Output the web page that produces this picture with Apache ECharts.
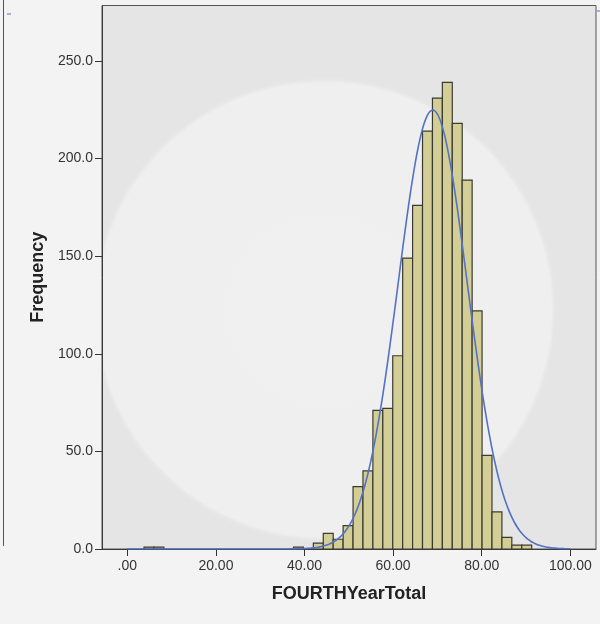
<!DOCTYPE html>
<html>
<head>
<meta charset="utf-8">
<title>FOURTHYearTotal histogram</title>
<script src="https://cdn.jsdelivr.net/npm/echarts@6/dist/echarts.min.js"></script>
<style>
  html, body { margin: 0; padding: 0; background: #f3f3f3; }
  #chart { width: 600px; height: 624px; }
</style>
</head>
<body>
<div id="chart"></div>
<script>
// Histogram bins: lower edge of each bin and its frequency
const binWidth = 2.24;
const binLower = [3.78, 6.02, 37.52, 42.00, 44.24, 46.48, 48.72, 50.96, 53.20, 55.44,
                  57.68, 59.92, 62.16, 64.40, 66.64, 68.88, 71.12, 73.36, 75.60, 77.84,
                  80.08, 82.32, 84.56, 86.80, 89.04];
const binCount = [1, 1, 1, 3, 8, 5, 12, 32, 40, 71,
                  72, 99, 149, 176, 214, 231, 239, 218, 189, 122,
                  48, 19, 6, 2, 2];

// Axis ticks and their labels
const xTicks = [0, 20, 40, 60, 80, 100];
const xTickLabels = ['.00', '20.00', '40.00', '60.00', '80.00', '100.00'];
const yTicks = [0, 50, 100, 150, 200, 250];
const yTickLabels = ['0.0', '50.0', '100.0', '150.0', '200.0', '250.0'];

const xName = 'FOURTHYearTotal';
const yName = 'Frequency';

// Normal curve fitted to the binned data (mean / std. dev. from bin midpoints)
const total = binCount.reduce((a, b) => a + b, 0);
const mean = binLower.reduce((s, lo, i) => s + (lo + binWidth / 2) * binCount[i], 0) / total;
const variance = binLower.reduce((s, lo, i) => {
  const d = lo + binWidth / 2 - mean;
  return s + d * d * binCount[i];
}, 0) / (total - 1);
const sd = Math.sqrt(variance);
const normalCurve = [];
for (let x = 0; x <= 100.0001; x += 0.5) {
  const z = (x - mean) / sd;
  normalCurve.push([x, total * binWidth * Math.exp(-0.5 * z * z) / (sd * Math.sqrt(2 * Math.PI))]);
}

const histData = binLower.map((lo, i) => [lo, lo + binWidth, binCount[i]]);

const font = '"Liberation Sans", Arial, sans-serif';
const chart = echarts.init(document.getElementById('chart'), null, { renderer: 'canvas' });

chart.setOption({
  backgroundColor: 'transparent',
  animation: false,
  graphic: [
    // frame edge of the neighbouring panel on the left
    { type: 'line', shape: { x1: 3.5, y1: 0, x2: 3.5, y2: 546 },
      style: { stroke: '#555', lineWidth: 1 }, z: 10 },
    { type: 'line', shape: { x1: 7, y1: 14, x2: 11, y2: 14 },
      style: { stroke: '#5573c8', lineWidth: 1 }, z: 10 },
    { type: 'line', shape: { x1: 597, y1: 11, x2: 600, y2: 11 },
      style: { stroke: '#5573c8', lineWidth: 1 }, z: 10 }
  ],
  grid: {
    left: 102, right: 4, top: 5.5, bottom: 75,
    show: true,
    borderColor: '#555',
    borderWidth: 1,
    backgroundColor: {
      type: 'radial', x: 0.45, y: 0.56, r: 0.47,
      colorStops: [
        { offset: 0, color: '#f0f0f0' },
        { offset: 0.975, color: '#efefef' },
        { offset: 0.99, color: '#e7e7e7' },
        { offset: 1, color: '#e5e5e5' }
      ]
    }
  },
  xAxis: {
    type: 'value',
    min: -5.71, max: 105.8,
    name: xName,
    nameLocation: 'middle',
    nameGap: 36,
    nameTextStyle: { fontFamily: font, fontSize: 18, fontWeight: 'bold', color: '#222' },
    splitLine: { show: false },
    axisLine: { onZero: false, lineStyle: { color: '#3a3a3a', width: 1 } },
    axisTick: { show: true, customValues: xTicks, length: 7, lineStyle: { color: '#333' } },
    axisLabel: {
      customValues: xTicks,
      formatter: v => xTickLabels[xTicks.indexOf(v)],
      margin: 10, fontFamily: font, fontSize: 14, color: '#333'
    }
  },
  yAxis: {
    type: 'value',
    min: 0, max: 278.4,
    name: yName,
    nameLocation: 'middle',
    nameGap: 54,
    nameRotate: 90,
    nameTextStyle: { fontFamily: font, fontSize: 18, fontWeight: 'bold', color: '#222' },
    splitLine: { show: false },
    axisLine: { show: true, onZero: false, lineStyle: { color: '#3a3a3a', width: 1 } },
    axisTick: { show: true, customValues: yTicks, length: 7, lineStyle: { color: '#333' } },
    axisLabel: {
      customValues: yTicks,
      formatter: v => yTickLabels[yTicks.indexOf(v)],
      margin: 9, fontFamily: font, fontSize: 14, color: '#333'
    }
  },
  series: [
    {
      type: 'custom',
      name: 'bins',
      clip: true,
      data: histData,
      encode: { x: [0, 1], y: 2 },
      renderItem: function (params, api) {
        const topLeft = api.coord([api.value(0), api.value(2)]);
        const bottomRight = api.coord([api.value(1), 0]);
        return {
          type: 'rect',
          shape: {
            x: topLeft[0], y: topLeft[1],
            width: bottomRight[0] - topLeft[0],
            height: bottomRight[1] - topLeft[1]
          },
          style: { fill: '#d3cd96', stroke: '#3b3a30', lineWidth: 1.2 }
        };
      },
      z: 2
    },
    {
      type: 'line',
      name: 'Normal',
      data: normalCurve,
      showSymbol: false,
      smooth: true,
      lineStyle: { color: '#5472c4', width: 1.6 },
      z: 3
    }
  ]
});
</script>
</body>
</html>
